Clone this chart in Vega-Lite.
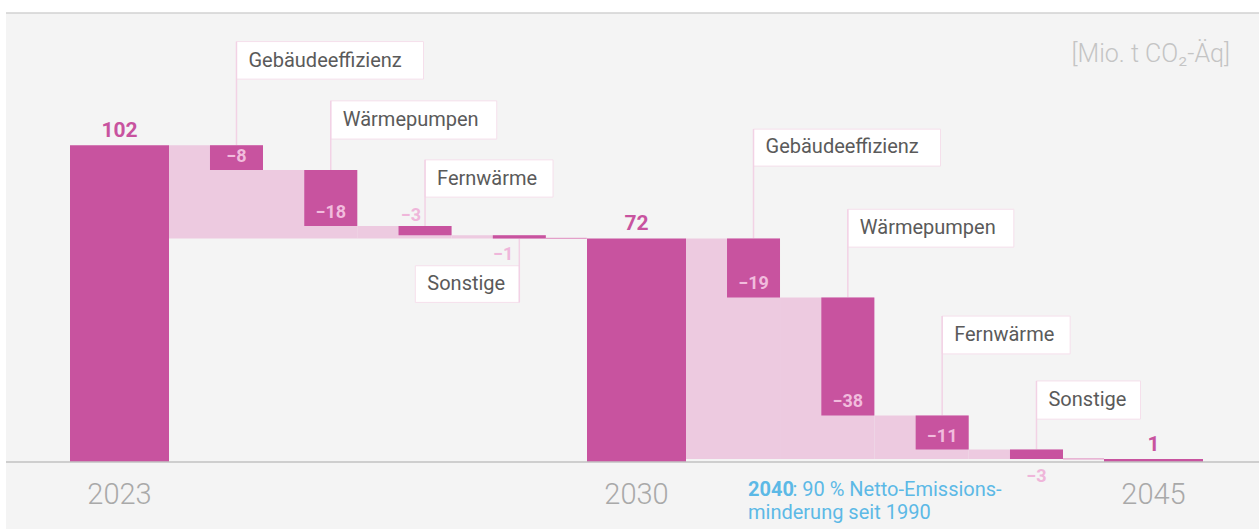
{
  "$schema": "https://vega.github.io/schema/vega-lite/v6.json",
  "width": 1253,
  "height": 516,
  "autosize": {"type": "none"},
  "padding": {"left": 6, "top": 13, "right": 0, "bottom": 0},
  "background": "#ffffff",
  "config": {
    "view": {"fill": "#f4f4f4", "stroke": null},
    "font": "Roboto"
  },
  "title": {
    "text": "[Mio. t CO₂-Äq]",
    "anchor": "end",
    "frame": "group",
    "orient": "top",
    "offset": -67,
    "baseline": "middle",
    "dx": -29,
    "fontSize": 25,
    "fontWeight": 300,
    "color": "#c4c4c4",
    "font": "Roboto"
  },
  "datasets": {
    "schritte": [
      {"gruppe": "2023–2030", "kategorie": "Gebäudeeffizienz", "wert": -8, "start": 102, "ende": 94},
      {"gruppe": "2023–2030", "kategorie": "Wärmepumpen", "wert": -18, "start": 94, "ende": 76},
      {"gruppe": "2023–2030", "kategorie": "Fernwärme", "wert": -3, "start": 76, "ende": 73},
      {"gruppe": "2023–2030", "kategorie": "Sonstige", "wert": -1, "start": 73, "ende": 72},
      {"gruppe": "2030–2045", "kategorie": "Gebäudeeffizienz", "wert": -19, "start": 72, "ende": 53},
      {"gruppe": "2030–2045", "kategorie": "Wärmepumpen", "wert": -38, "start": 53, "ende": 15},
      {"gruppe": "2030–2045", "kategorie": "Fernwärme", "wert": -11, "start": 15, "ende": 4},
      {"gruppe": "2030–2045", "kategorie": "Sonstige", "wert": -3, "start": 4, "ende": 1}
    ],
    "meilensteine": [
      {"jahr": "2023", "wert": 102},
      {"jahr": "2030", "wert": 72},
      {"jahr": "2045", "wert": 1}
    ]
  },
  "resolve": {"scale": {"x": "independent"}},
  "layer": [
    {
      "data": {"values": [{}]},
      "mark": {"type": "rule", "color": "#d2d2d2", "strokeWidth": 1.5},
      "encoding": {"y": {"datum": 144.6, "type": "quantitative", "scale": {"domain": [-21.58, 144.6], "nice": false, "zero": false}, "axis": null}}
    },
    {
      "data": {"name": "schritte"},
      "transform": [
        {"filter": "datum.gruppe === '2023–2030'"},
        {"joinaggregate": [{"op": "min", "field": "ende", "as": "ziel"}]}
      ],
      "encoding": {
        "x": {"field": "kategorie", "type": "nominal", "scale": {"type": "band", "domain": ["Gebäudeeffizienz", "Wärmepumpen", "Fernwärme", "Sonstige"], "range": [183.35, 560.45], "paddingInner": 0, "paddingOuter": 0}, "axis": null}
      },
      "layer": [
        {
          "mark": {"type": "bar", "width": 94.3, "xOffset": -20.65, "color": "#edcae0"},
          "encoding": {"y": {"field": "start", "type": "quantitative", "scale": {"domain": [-21.58, 144.6], "nice": false, "zero": false}, "axis": null}, "y2": {"field": "ziel"}}
        },
        {
          "transform": [{"filter": "datum.kategorie === 'Sonstige'"}],
          "mark": {"type": "bar", "width": 41, "xOffset": 47, "fill": "#e3a0c9", "stroke": "#e3a0c9", "strokeWidth": 1.2},
          "encoding": {"y": {"field": "ende", "type": "quantitative", "axis": null}, "y2": {"field": "ende"}}
        },
        {
          "transform": [{"filter": "datum.kategorie === 'Gebäudeeffizienz'"}],
          "layer": [
            {"mark": {"type": "bar", "width": 187, "xOffset": 93.5, "fill": "#ffffff", "stroke": "#f5dfeb", "strokeWidth": 1},
             "encoding": {"y": {"datum": 135.4, "type": "quantitative", "axis": null}, "y2": {"datum": 123.3}}},
            {"mark": {"type": "bar", "width": 1.5, "color": "#f2d2e5"},
             "encoding": {"y": {"field": "start", "type": "quantitative", "axis": null}, "y2": {"datum": 135.4}}},
            {"mark": {"type": "text", "align": "left", "baseline": "middle", "dx": 12, "fontSize": 20, "color": "#5a5a5a"},
             "encoding": {"y": {"datum": 129.3, "type": "quantitative", "axis": null}, "text": {"field": "kategorie", "type": "nominal"}}}
          ]
        },
        {
          "transform": [{"filter": "datum.kategorie === 'Wärmepumpen'"}],
          "layer": [
            {"mark": {"type": "bar", "width": 166, "xOffset": 83, "fill": "#ffffff", "stroke": "#f5dfeb", "strokeWidth": 1},
             "encoding": {"y": {"datum": 116.3, "type": "quantitative", "axis": null}, "y2": {"datum": 104.0}}},
            {"mark": {"type": "bar", "width": 1.5, "color": "#f2d2e5"},
             "encoding": {"y": {"field": "start", "type": "quantitative", "axis": null}, "y2": {"datum": 116.3}}},
            {"mark": {"type": "text", "align": "left", "baseline": "middle", "dx": 12, "fontSize": 20, "color": "#5a5a5a"},
             "encoding": {"y": {"datum": 110.1, "type": "quantitative", "axis": null}, "text": {"field": "kategorie", "type": "nominal"}}}
          ]
        },
        {
          "transform": [{"filter": "datum.kategorie === 'Fernwärme'"}],
          "layer": [
            {"mark": {"type": "bar", "width": 128, "xOffset": 64, "fill": "#ffffff", "stroke": "#f5dfeb", "strokeWidth": 1},
             "encoding": {"y": {"datum": 97.3, "type": "quantitative", "axis": null}, "y2": {"datum": 85.3}}},
            {"mark": {"type": "bar", "width": 1.5, "color": "#f2d2e5"},
             "encoding": {"y": {"field": "start", "type": "quantitative", "axis": null}, "y2": {"datum": 97.3}}},
            {"mark": {"type": "text", "align": "left", "baseline": "middle", "dx": 12, "fontSize": 20, "color": "#5a5a5a"},
             "encoding": {"y": {"datum": 91.3, "type": "quantitative", "axis": null}, "text": {"field": "kategorie", "type": "nominal"}}}
          ]
        },
        {
          "transform": [{"filter": "datum.kategorie === 'Sonstige'"}],
          "layer": [
            {"mark": {"type": "bar", "width": 104, "xOffset": -52, "fill": "#ffffff", "stroke": "#f5dfeb", "strokeWidth": 1},
             "encoding": {"y": {"datum": 63.2, "type": "quantitative", "axis": null}, "y2": {"datum": 51.4}}},
            {"mark": {"type": "bar", "width": 1.5, "color": "#f2d2e5"},
             "encoding": {"y": {"field": "ende", "type": "quantitative", "axis": null}, "y2": {"datum": 51.4}}},
            {"mark": {"type": "text", "align": "left", "baseline": "middle", "dx": -92, "fontSize": 20, "color": "#5a5a5a"},
             "encoding": {"y": {"datum": 57.3, "type": "quantitative", "axis": null}, "text": {"field": "kategorie", "type": "nominal"}}}
          ]
        },
        {
          "mark": {"type": "bar", "width": 53, "color": "#c8539f"},
          "encoding": {"y": {"field": "start", "type": "quantitative", "axis": null}, "y2": {"field": "ende"}}
        },
        {
          "transform": [{"filter": "datum.kategorie === 'Gebäudeeffizienz' || datum.kategorie === 'Wärmepumpen'"}],
          "mark": {"type": "text", "baseline": "alphabetic", "dy": -8, "fontSize": 18, "fontWeight": "bold", "color": "#f1bcdd"},
          "encoding": {"y": {"field": "ende", "type": "quantitative", "axis": null}, "text": {"field": "wert", "type": "quantitative", "format": "d"}}
        },
        {
          "transform": [{"filter": "datum.kategorie === 'Fernwärme'"}],
          "mark": {"type": "text", "align": "right", "baseline": "alphabetic", "dx": -4, "dy": -5, "fontSize": 18, "fontWeight": "bold", "color": "#efb6da"},
          "encoding": {"y": {"field": "start", "type": "quantitative", "axis": null}, "text": {"field": "wert", "type": "quantitative", "format": "d"}}
        },
        {
          "transform": [{"filter": "datum.kategorie === 'Sonstige'"}],
          "mark": {"type": "text", "align": "right", "baseline": "alphabetic", "dx": -6, "dy": 21.6, "fontSize": 18, "fontWeight": "bold", "color": "#efb6da"},
          "encoding": {"y": {"field": "ende", "type": "quantitative", "axis": null}, "text": {"field": "wert", "type": "quantitative", "format": "d"}}
        }
      ]
    },
    {
      "data": {"name": "schritte"},
      "transform": [
        {"filter": "datum.gruppe === '2030–2045'"},
        {"joinaggregate": [{"op": "min", "field": "ende", "as": "ziel"}]}
      ],
      "encoding": {
        "x": {"field": "kategorie", "type": "nominal", "scale": {"type": "band", "domain": ["Gebäudeeffizienz", "Wärmepumpen", "Fernwärme", "Sonstige"], "range": [700.35, 1077.65], "paddingInner": 0, "paddingOuter": 0}, "axis": null}
      },
      "layer": [
        {
          "mark": {"type": "bar", "width": 94.3, "xOffset": -20.65, "color": "#edcae0"},
          "encoding": {"y": {"field": "start", "type": "quantitative", "axis": null}, "y2": {"field": "ziel"}}
        },
        {
          "transform": [{"filter": "datum.kategorie === 'Sonstige'"}],
          "mark": {"type": "bar", "width": 41, "xOffset": 47, "fill": "#e3a0c9", "stroke": "#e3a0c9", "strokeWidth": 1.2},
          "encoding": {"y": {"field": "ende", "type": "quantitative", "axis": null}, "y2": {"field": "ende"}}
        },
        {
          "transform": [{"filter": "datum.kategorie === 'Gebäudeeffizienz'"}],
          "layer": [
            {"mark": {"type": "bar", "width": 187, "xOffset": 93.5, "fill": "#ffffff", "stroke": "#f5dfeb", "strokeWidth": 1},
             "encoding": {"y": {"datum": 107.2, "type": "quantitative", "axis": null}, "y2": {"datum": 95.3}}},
            {"mark": {"type": "bar", "width": 1.5, "color": "#f2d2e5"},
             "encoding": {"y": {"field": "start", "type": "quantitative", "axis": null}, "y2": {"datum": 107.2}}},
            {"mark": {"type": "text", "align": "left", "baseline": "middle", "dx": 12, "fontSize": 20, "color": "#5a5a5a"},
             "encoding": {"y": {"datum": 101.3, "type": "quantitative", "axis": null}, "text": {"field": "kategorie", "type": "nominal"}}}
          ]
        },
        {
          "transform": [{"filter": "datum.kategorie === 'Wärmepumpen'"}],
          "layer": [
            {"mark": {"type": "bar", "width": 166, "xOffset": 83, "fill": "#ffffff", "stroke": "#f5dfeb", "strokeWidth": 1},
             "encoding": {"y": {"datum": 81.4, "type": "quantitative", "axis": null}, "y2": {"datum": 69.2}}},
            {"mark": {"type": "bar", "width": 1.5, "color": "#f2d2e5"},
             "encoding": {"y": {"field": "start", "type": "quantitative", "axis": null}, "y2": {"datum": 81.4}}},
            {"mark": {"type": "text", "align": "left", "baseline": "middle", "dx": 12, "fontSize": 20, "color": "#5a5a5a"},
             "encoding": {"y": {"datum": 75.3, "type": "quantitative", "axis": null}, "text": {"field": "kategorie", "type": "nominal"}}}
          ]
        },
        {
          "transform": [{"filter": "datum.kategorie === 'Fernwärme'"}],
          "layer": [
            {"mark": {"type": "bar", "width": 128, "xOffset": 64, "fill": "#ffffff", "stroke": "#f5dfeb", "strokeWidth": 1},
             "encoding": {"y": {"datum": 47.0, "type": "quantitative", "axis": null}, "y2": {"datum": 34.8}}},
            {"mark": {"type": "bar", "width": 1.5, "color": "#f2d2e5"},
             "encoding": {"y": {"field": "start", "type": "quantitative", "axis": null}, "y2": {"datum": 47.0}}},
            {"mark": {"type": "text", "align": "left", "baseline": "middle", "dx": 12, "fontSize": 20, "color": "#5a5a5a"},
             "encoding": {"y": {"datum": 40.9, "type": "quantitative", "axis": null}, "text": {"field": "kategorie", "type": "nominal"}}}
          ]
        },
        {
          "transform": [{"filter": "datum.kategorie === 'Sonstige'"}],
          "layer": [
            {"mark": {"type": "bar", "width": 104, "xOffset": 52, "fill": "#ffffff", "stroke": "#f5dfeb", "strokeWidth": 1},
             "encoding": {"y": {"datum": 26.1, "type": "quantitative", "axis": null}, "y2": {"datum": 13.8}}},
            {"mark": {"type": "bar", "width": 1.5, "color": "#f2d2e5"},
             "encoding": {"y": {"field": "start", "type": "quantitative", "axis": null}, "y2": {"datum": 26.1}}},
            {"mark": {"type": "text", "align": "left", "baseline": "middle", "dx": 12, "fontSize": 20, "color": "#5a5a5a"},
             "encoding": {"y": {"datum": 20.0, "type": "quantitative", "axis": null}, "text": {"field": "kategorie", "type": "nominal"}}}
          ]
        },
        {
          "mark": {"type": "bar", "width": 53, "color": "#c8539f"},
          "encoding": {"y": {"field": "start", "type": "quantitative", "axis": null}, "y2": {"field": "ende"}}
        },
        {
          "transform": [{"filter": "datum.kategorie !== 'Sonstige'"}],
          "mark": {"type": "text", "baseline": "alphabetic", "dy": -8, "fontSize": 18, "fontWeight": "bold", "color": "#f1bcdd"},
          "encoding": {"y": {"field": "ende", "type": "quantitative", "axis": null}, "text": {"field": "wert", "type": "quantitative", "format": "d"}}
        },
        {
          "transform": [{"filter": "datum.kategorie === 'Sonstige'"}],
          "mark": {"type": "text", "baseline": "alphabetic", "dy": 23, "fontSize": 18, "fontWeight": "bold", "color": "#efb6da"},
          "encoding": {"y": {"field": "ende", "type": "quantitative", "axis": null}, "text": {"field": "wert", "type": "quantitative", "format": "d"}}
        }
      ]
    },
    {
      "data": {"name": "meilensteine"},
      "encoding": {
        "x": {"field": "jahr", "type": "nominal",
              "scale": {"type": "band", "domain": ["2023", "2030", "2045"], "range": [-145, 1406], "paddingInner": 0, "paddingOuter": 0},
              "axis": {"orient": "bottom", "offset": -67, "domain": false, "ticks": false, "grid": false, "labelAngle": 0, "labelPadding": 18, "labelFontSize": 29, "labelFontWeight": 300, "labelColor": "#a9a9a9", "title": null}}
      },
      "layer": [
        {
          "mark": {"type": "bar", "width": 99, "color": "#c8539f"},
          "encoding": {"y": {"field": "wert", "type": "quantitative", "axis": null}, "y2": {"datum": 0}}
        },
        {
          "mark": {"type": "text", "baseline": "alphabetic", "dy": -8, "fontSize": 21, "fontWeight": "bold", "color": "#c8539f"},
          "encoding": {"y": {"field": "wert", "type": "quantitative", "axis": null}, "text": {"field": "wert", "type": "quantitative", "format": "d"}}
        },
        {
          "transform": [{"filter": "datum.jahr === '2030'"}],
          "layer": [
            {"mark": {"type": "text", "text": "2040", "align": "left", "baseline": "alphabetic", "dx": 111.5, "fontSize": 20, "fontWeight": "bold", "color": "#5cb9e6"},
             "encoding": {"y": {"datum": -10.95, "type": "quantitative", "axis": null}}},
            {"mark": {"type": "text", "text": ": 90 % Netto-Emissions-", "align": "left", "baseline": "alphabetic", "dx": 156, "fontSize": 20, "color": "#5cb9e6"},
             "encoding": {"y": {"datum": -10.95, "type": "quantitative", "axis": null}}},
            {"mark": {"type": "text", "text": "minderung seit 1990", "align": "left", "baseline": "alphabetic", "dx": 111.5, "fontSize": 20, "color": "#5cb9e6"},
             "encoding": {"y": {"datum": -18.4, "type": "quantitative", "axis": null}}}
          ]
        }
      ]
    },
    {
      "data": {"values": [{}]},
      "mark": {"type": "rule", "color": "#c2c2c2", "strokeWidth": 1.5},
      "encoding": {"y": {"datum": 0, "type": "quantitative", "axis": null}}
    }
  ]
}
